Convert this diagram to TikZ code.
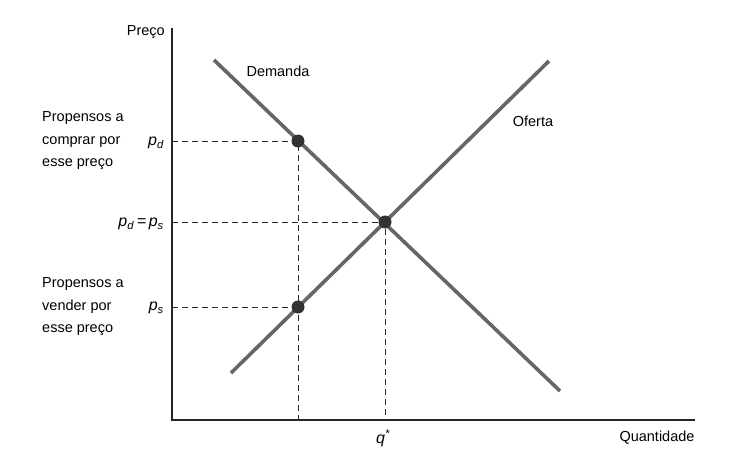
\documentclass[tikz,border=0pt]{standalone}
\usepackage{fontspec}
\setmainfont{Liberation Sans}
\begin{document}
\begin{tikzpicture}[x=1pt,y=-1pt,
  axis/.style={line width=1.3pt, black!85},
  curve/.style={line width=3.6pt, color=black!60},
  guide/.style={line width=0.9pt, black!85, dash pattern=on 6pt off 4pt},
  dot/.style={circle, fill=black!80, inner sep=0pt, minimum size=13pt},
  lbl/.style={font=\fontsize{14.5}{22.5}\selectfont, inner sep=0pt},
  sym/.style={font=\fontsize{16}{18}\selectfont\itshape, inner sep=0pt}]
\useasboundingbox[fill=white] (0,0) rectangle (737,450);
% coordinates
\coordinate (O) at (172,420);
\coordinate (ytop) at (172,28);
\coordinate (xend) at (695,420);
\coordinate (d1) at (214,60);
\coordinate (d2) at (560,391);
\coordinate (s1) at (231,373);
\coordinate (s2) at (549,61);
\coordinate (pdc) at (298,141);
\coordinate (psc) at (298,307);
\coordinate (ec) at (385,222);
% guides
\draw[guide] (O |- pdc) -- (pdc) -- (pdc |- O);
\draw[guide] (O |- psc) -- (psc);
\draw[guide] (O |- ec) -- (ec) -- (ec |- O);
% axes
\draw[axis] (ytop) -- (O) -- (xend);
% curves
\draw[curve] (d1) -- (d2);
\draw[curve] (s1) -- (s2);
% dots
\node[dot] (pd) at (pdc) {};
\node[dot] (ps) at (psc) {};
\node[dot] (eq) at (ec) {};
% labels
\node[lbl, anchor=east] (preco) at (165,32) {Preço};
\node[lbl] (demanda) at (278,71) {Demanda};
\node[lbl] (oferta) at (533,121) {Oferta};
\node[lbl] (quant) at (657,438) {Quantidade};
\node[sym] (qstar) at (383,438) {q\textsuperscript{*}};
\node[sym, anchor=east] (pdl) at (164,143) {p\textsubscript{d}};
\node[sym, anchor=east] (eql) at (164,224) {p\textsubscript{d}\,=\,p\textsubscript{s}};
\node[sym, anchor=east] (psl) at (164,308) {p\textsubscript{s}};
\node[lbl, anchor=west, align=left] (comprar) at (42,141) {Propensos a\\comprar por\\esse preço};
\node[lbl, anchor=west, align=left] (vender) at (42,307) {Propensos a\\vender por\\esse preço};
\end{tikzpicture}
\end{document}
